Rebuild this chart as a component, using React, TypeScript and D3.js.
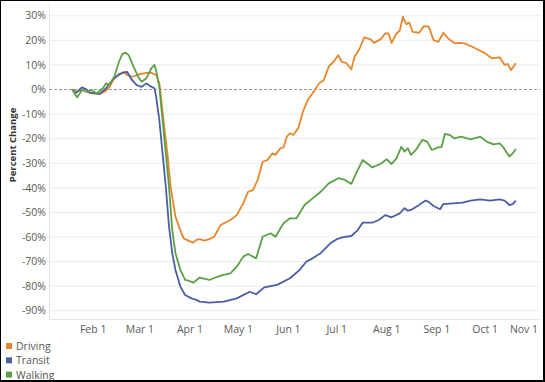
import React from "react";
import * as d3 from "d3";

// Percent change vs. baseline
const driving: [string, number][] = [
  ["2020-01-19", 0], ["2020-01-22", -0.9], ["2020-01-25", 0], ["2020-01-28", -1.0], ["2020-01-31", -1.6],
  ["2020-02-05", -1.8], ["2020-02-08", -0.9], ["2020-02-11", 0.9], ["2020-02-14", 4.6], ["2020-02-18", 6.3],
  ["2020-02-20", 7.2], ["2020-02-22", 5.9], ["2020-02-25", 5.2], ["2020-03-01", 6.3], ["2020-03-05", 6.8],
  ["2020-03-08", 6.8], ["2020-03-11", 5.9], ["2020-03-13", 2.5], ["2020-03-14", -2.9], ["2020-03-16", -15],
  ["2020-03-18", -26], ["2020-03-20", -39.5], ["2020-03-23", -51.8], ["2020-03-26", -57.2], ["2020-03-28", -60.5],
  ["2020-03-31", -61.5], ["2020-04-03", -62.3], ["2020-04-05", -61.2], ["2020-04-07", -60.9], ["2020-04-10", -61.5],
  ["2020-04-13", -60.9], ["2020-04-16", -59.9], ["2020-04-20", -55.1], ["2020-04-26", -53.1], ["2020-04-30", -51.1],
  ["2020-05-04", -46.3], ["2020-05-07", -41.6], ["2020-05-10", -40.9], ["2020-05-13", -36.8], ["2020-05-16", -29.4],
  ["2020-05-19", -28.7], ["2020-05-22", -26], ["2020-05-24", -26.6], ["2020-05-27", -23.9], ["2020-05-29", -23.5],
  ["2020-05-31", -19.2], ["2020-06-02", -17.8], ["2020-06-04", -18.5], ["2020-06-07", -15.8], ["2020-06-08", -13.8],
  ["2020-06-10", -9], ["2020-06-13", -4.3], ["2020-06-16", -1.5], ["2020-06-20", 2.5], ["2020-06-23", 3.9],
  ["2020-06-26", 9.3], ["2020-06-29", 11.3], ["2020-07-02", 14], ["2020-07-04", 11.3], ["2020-07-07", 10.7],
  ["2020-07-10", 8.2], ["2020-07-12", 13.3], ["2020-07-15", 16.4], ["2020-07-18", 21.2], ["2020-07-22", 20.4],
  ["2020-07-24", 19], ["2020-07-28", 20.4], ["2020-07-31", 22.8], ["2020-08-02", 22.8], ["2020-08-04", 19],
  ["2020-08-07", 22.8], ["2020-08-09", 23.9], ["2020-08-11", 29.6], ["2020-08-13", 26.6], ["2020-08-15", 27.2],
  ["2020-08-17", 23.5], ["2020-08-21", 23.1], ["2020-08-24", 25.8], ["2020-08-27", 25.6], ["2020-08-30", 20.1],
  ["2020-09-02", 19.4], ["2020-09-05", 23.1], ["2020-09-08", 20.8], ["2020-09-12", 18.8], ["2020-09-15", 19],
  ["2020-09-18", 18.8], ["2020-09-23", 17.4], ["2020-09-27", 16.1], ["2020-10-01", 14.7], ["2020-10-05", 12.7],
  ["2020-10-10", 13.1], ["2020-10-13", 10], ["2020-10-15", 10.4], ["2020-10-17", 7.9], ["2020-10-20", 10.7],
];

const transit: [string, number][] = [
  ["2020-01-19", 0], ["2020-01-21", -1.6], ["2020-01-25", 0.9], ["2020-01-28", 0], ["2020-01-30", -1.3],
  ["2020-02-05", -1.8], ["2020-02-09", 0.5], ["2020-02-13", 3.9], ["2020-02-17", 6.3], ["2020-02-21", 7.1],
  ["2020-02-22", 7.2], ["2020-02-25", 3.9], ["2020-02-28", 1.8], ["2020-03-02", 1.1], ["2020-03-05", 2.5],
  ["2020-03-07", 1.5], ["2020-03-10", 0.5], ["2020-03-11", -2.9], ["2020-03-13", -12.4], ["2020-03-15", -26],
  ["2020-03-17", -39.5], ["2020-03-19", -55.8], ["2020-03-21", -66.6], ["2020-03-23", -73.4], ["2020-03-26", -80.2],
  ["2020-03-29", -83.6], ["2020-04-02", -85], ["2020-04-05", -85.6], ["2020-04-07", -86.3], ["2020-04-13", -86.7],
  ["2020-04-22", -86.3], ["2020-04-30", -85], ["2020-05-08", -82.3], ["2020-05-12", -83.3], ["2020-05-17", -80.5],
  ["2020-05-25", -79.5], ["2020-06-02", -76.8], ["2020-06-08", -73.4], ["2020-06-12", -70.1], ["2020-06-16", -68.7],
  ["2020-06-21", -66.6], ["2020-06-27", -62.6], ["2020-07-01", -60.9], ["2020-07-05", -60.1], ["2020-07-10", -59.6],
  ["2020-07-14", -57.2], ["2020-07-17", -54.2], ["2020-07-23", -54.2], ["2020-07-27", -53.1], ["2020-07-31", -51.1],
  ["2020-08-04", -52], ["2020-08-09", -50.4], ["2020-08-12", -48.3], ["2020-08-14", -49.3], ["2020-08-16", -49],
  ["2020-08-21", -47], ["2020-08-25", -45.2], ["2020-08-27", -45.7], ["2020-08-30", -47.4], ["2020-09-03", -48.7],
  ["2020-09-05", -46.6], ["2020-09-11", -46.3], ["2020-09-17", -46], ["2020-09-22", -45.2], ["2020-09-28", -44.7],
  ["2020-10-04", -45.2], ["2020-10-10", -44.7], ["2020-10-13", -45.2], ["2020-10-16", -47], ["2020-10-18", -46.6],
  ["2020-10-20", -45.2],
];

const walking: [string, number][] = [
  ["2020-01-19", 0], ["2020-01-22", -3.2], ["2020-01-25", -0.2], ["2020-01-28", -0.9], ["2020-01-31", -0.2],
  ["2020-02-03", -1.6], ["2020-02-07", 0.5], ["2020-02-09", 2.5], ["2020-02-11", 1.8], ["2020-02-14", 5.2],
  ["2020-02-17", 11.3], ["2020-02-19", 14.4], ["2020-02-21", 15], ["2020-02-23", 14], ["2020-02-26", 9.3],
  ["2020-02-29", 5], ["2020-03-02", 3.2], ["2020-03-05", 4.6], ["2020-03-08", 8.6], ["2020-03-10", 10],
  ["2020-03-11", 7.9], ["2020-03-13", 1.1], ["2020-03-17", -26], ["2020-03-19", -39.5], ["2020-03-21", -57.2],
  ["2020-03-23", -66.6], ["2020-03-26", -73.4], ["2020-03-29", -77.5], ["2020-04-01", -78], ["2020-04-03", -78.6],
  ["2020-04-07", -76.5], ["2020-04-13", -77.5], ["2020-04-18", -76.2], ["2020-04-21", -75.5], ["2020-04-26", -74.8],
  ["2020-04-30", -72.1], ["2020-05-04", -68], ["2020-05-07", -66.9], ["2020-05-12", -68.7], ["2020-05-16", -59.9],
  ["2020-05-21", -58.5], ["2020-05-24", -59.9], ["2020-05-29", -54.4], ["2020-06-02", -52.4], ["2020-06-06", -52.4],
  ["2020-06-11", -47], ["2020-06-16", -44.3], ["2020-06-21", -41.6], ["2020-06-26", -38.2], ["2020-07-02", -36.1],
  ["2020-07-06", -36.8], ["2020-07-10", -38.4], ["2020-07-13", -34.1], ["2020-07-17", -28.7], ["2020-07-23", -31.7],
  ["2020-07-28", -30.3], ["2020-08-01", -28.4], ["2020-08-04", -30.3], ["2020-08-07", -28], ["2020-08-10", -23.3],
  ["2020-08-12", -25.3], ["2020-08-14", -23.9], ["2020-08-16", -26.6], ["2020-08-19", -24.6], ["2020-08-23", -20.5],
  ["2020-08-26", -21.2], ["2020-08-29", -24.6], ["2020-09-02", -23.5], ["2020-09-04", -23.3], ["2020-09-06", -18.1],
  ["2020-09-09", -18.5], ["2020-09-12", -19.9], ["2020-09-16", -19.2], ["2020-09-22", -20.3], ["2020-09-28", -19.2],
  ["2020-10-02", -21.2], ["2020-10-06", -22.3], ["2020-10-10", -21.9], ["2020-10-12", -23.3], ["2020-10-14", -25.3],
  ["2020-10-16", -27.3], ["2020-10-18", -26], ["2020-10-20", -24.2],
];

const seriesNames = ["Driving", "Transit", "Walking"];
const seriesColors = ["#e8862c", "#4c5ea6", "#5aa146"];
const yTickValues = [30, 20, 10, 0, -10, -20, -30, -40, -50, -60, -70, -80, -90];
const xTickDates = ["2020-02-01", "2020-03-01", "2020-04-01", "2020-05-01", "2020-06-01", "2020-07-01", "2020-08-01", "2020-09-01", "2020-10-01", "2020-11-01"];

const W = 545;
const H = 382;
const paneLeft = 49;
const paneRight = 540;
const paneTop = 4;
const paneBottom = 319;
const FONT = "'Open Sans', 'Noto Sans', sans-serif";

const parse = d3.timeParse("%Y-%m-%d");
const fmt = d3.timeFormat("%b %-d");

export default function App() {
  const x = d3.scaleTime()
    .domain([parse("2020-02-01")!, parse("2020-10-01")!])
    .range([93.2, 485.2]);
  const y = d3.scaleLinear().domain([-90, 30]).range([310.7, 15.8]);

  const line = d3.line<[string, number]>()
    .x((d) => x(parse(d[0])!))
    .y((d) => y(d[1]));

  const allSeries = [driving, transit, walking];

  return (
    <svg width={W} height={H} style={{ position: "absolute", left: 0, top: 0, background: "#fff" }} fontFamily={FONT}>
      <rect x={0} y={0} width={W} height={H} fill="#fff" />
      {/* gridlines */}
      {yTickValues.filter((v) => v !== 0).map((v) => (
        <line key={v} x1={paneLeft} x2={paneRight} y1={y(v)} y2={y(v)} stroke="#ececec" strokeWidth={1} />
      ))}
      <line x1={paneLeft + 0.5} x2={paneLeft + 0.5} y1={paneTop} y2={paneBottom} stroke="#e6e6e6" />
      <line x1={paneLeft} x2={paneRight} y1={paneBottom + 0.5} y2={paneBottom + 0.5} stroke="#e6e6e6" />
      {/* zero line */}
      <line x1={paneLeft} x2={paneRight} y1={y(0)} y2={y(0)} stroke="#9a9a9a" strokeWidth={1} strokeDasharray="3,2" />
      {/* y tick labels */}
      {yTickValues.map((v) => (
        <text key={v} x={46} y={y(v)} dy="0.35em" textAnchor="end" fontSize={10.5} fill="#5a5a5a">{`${v}%`}</text>
      ))}
      {/* x tick labels */}
      {xTickDates.map((s) => {
        const px = Math.min(x(parse(s)!), paneRight - 16);
        return (
          <text key={s} x={px} y={333} textAnchor="middle" fontSize={10.5} fill="#5a5a5a">{fmt(parse(s)!)}</text>
        );
      })}
      {/* y axis title */}
      <text transform={`translate(16,145) rotate(-90)`} textAnchor="middle" fontSize={9.5} fontWeight="bold" fill="#333">Percent Change</text>
      {/* lines */}
      {allSeries.map((s, i) => (
        <path key={i} d={line(s) || ""} fill="none" stroke={seriesColors[i]} strokeWidth={1.8} strokeLinejoin="round" />
      ))}
      {/* legend */}
      {seriesNames.map((n, i) => (
        <g key={n} transform={`translate(0,${343 + i * 14.3})`}>
          <rect x={6} y={0} width={6} height={6} fill={seriesColors[i]} />
          <text x={16} y={7} fontSize={10.5} fill="#555">{n}</text>
        </g>
      ))}
      {/* border */}
      <rect x={0.5} y={0.5} width={W - 2} height={H - 2} fill="none" stroke="#000" strokeWidth={1} />
      <line x1={W - 1} x2={W - 1} y1={0} y2={H} stroke="#000" strokeWidth={2} />
      <line x1={0} x2={W} y1={H - 1} y2={H - 1} stroke="#000" strokeWidth={2} />
    </svg>
  );
}
